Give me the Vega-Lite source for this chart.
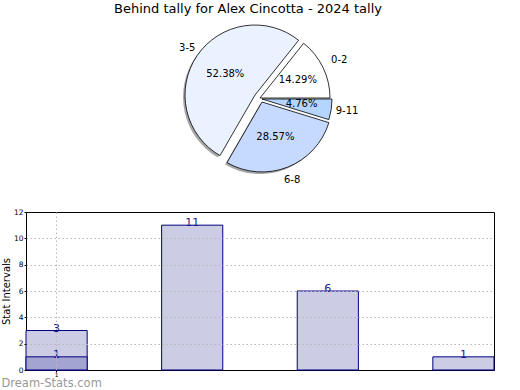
{
  "$schema": "https://vega.github.io/schema/vega-lite/v6.json",
  "padding": {"left": 0, "right": 0, "top": 3, "bottom": 0},
  "background": "white",
  "config": {
    "view": {"stroke": null},
    "font": "DejaVu Sans",
    "text": {"font": "DejaVu Sans"}
  },
  "title": {
    "text": "Behind tally for Alex Cincotta - 2024 tally",
    "fontSize": 13,
    "fontWeight": "normal",
    "font": "DejaVu Sans",
    "color": "#000000",
    "anchor": "middle",
    "offset": 2
  },
  "datasets": {
    "pie": [
      {"range": "0-2", "count": 3, "pct": "14.29%"},
      {"range": "3-5", "count": 11, "pct": "52.38%"},
      {"range": "6-8", "count": 6, "pct": "28.57%"},
      {"range": "9-11", "count": 1, "pct": "4.76%"}
    ],
    "bars": [
      {"x": 1, "value": 3, "series": "all"},
      {"x": 1, "value": 1, "series": "sub"},
      {"x": 2, "value": 11, "series": "all"},
      {"x": 3, "value": 6, "series": "all"},
      {"x": 4, "value": 1, "series": "all"}
    ]
  },
  "spacing": 22,
  "vconcat": [
    {
      "width": 468,
      "height": 160,
      "data": {"name": "pie"},
      "transform": [
        {"stack": "count", "groupby": [], "sort": [{"field": "range", "order": "ascending"}], "as": ["t0", "t1"]}
      ],
      "layer": [
        {
          "transform": [{"filter": "datum.range === '3-5'"}],
          "mark": {"type": "arc", "radius": 70, "fill": "#808080", "opacity": 0.7, "xOffset": -7, "yOffset": -1},
          "encoding": {
            "theta": {"field": "t0", "type": "quantitative", "scale": {"domain": [0, 21], "range": [1.5708, -4.7124]}},
            "theta2": {"field": "t1"}
          }
        },
        {
          "transform": [{"filter": "datum.range === '6-8'"}],
          "mark": {"type": "arc", "radius": 70, "fill": "#808080", "opacity": 0.7, "xOffset": 0, "yOffset": 6},
          "encoding": {
            "theta": {"field": "t0", "type": "quantitative"},
            "theta2": {"field": "t1"}
          }
        },
        {
          "transform": [{"filter": "datum.range === '0-2'"}],
          "mark": {"type": "arc", "radius": 70, "stroke": "#000000", "strokeWidth": 0.8},
          "encoding": {
            "theta": {"field": "t0", "type": "quantitative"},
            "theta2": {"field": "t1"},
            "color": {"field": "range", "type": "nominal", "legend": null, "scale": {"domain": ["0-2", "3-5", "6-8", "9-11"], "range": ["#FFFFFF", "#EAF1FF", "#C6D9FF", "#B5D5FF"]}}
          }
        },
        {
          "transform": [{"filter": "datum.range === '3-5'"}],
          "mark": {"type": "arc", "radius": 70, "stroke": "#000000", "strokeWidth": 0.8, "xOffset": -5, "yOffset": -3},
          "encoding": {
            "theta": {"field": "t0", "type": "quantitative"},
            "theta2": {"field": "t1"},
            "color": {"field": "range", "type": "nominal", "legend": null}
          }
        },
        {
          "transform": [{"filter": "datum.range === '6-8'"}],
          "mark": {"type": "arc", "radius": 70, "stroke": "#000000", "strokeWidth": 0.8, "xOffset": 2, "yOffset": 4},
          "encoding": {
            "theta": {"field": "t0", "type": "quantitative"},
            "theta2": {"field": "t1"},
            "color": {"field": "range", "type": "nominal", "legend": null}
          }
        },
        {
          "transform": [{"filter": "datum.range === '9-11'"}],
          "mark": {"type": "arc", "radius": 70, "stroke": "#000000", "strokeWidth": 0.8, "xOffset": 2, "yOffset": 1},
          "encoding": {
            "theta": {"field": "t0", "type": "quantitative"},
            "theta2": {"field": "t1"},
            "color": {"field": "range", "type": "nominal", "legend": null}
          }
        },
        {
          "mark": {"type": "text", "radius": 42, "fontSize": 10, "color": "#000000"},
          "encoding": {
            "theta": {"field": "count", "type": "quantitative", "stack": true},
            "order": {"field": "range", "sort": "ascending"},
            "text": {"field": "pct"}
          }
        },
        {
          "mark": {"type": "text", "radius": 88, "fontSize": 10, "color": "#000000"},
          "encoding": {
            "theta": {"field": "count", "type": "quantitative", "stack": true},
            "order": {"field": "range", "sort": "ascending"},
            "text": {"field": "range"}
          }
        }
      ]
    },
    {
      "width": 468,
      "height": 158,
      "view": {"stroke": "#000000", "strokeWidth": 1},
      "data": {"name": "bars"},
      "title": {
        "text": "Dream-Stats.com",
        "orient": "bottom",
        "anchor": "start",
        "frame": "bounds",
        "fontSize": 11.5,
        "fontWeight": "normal",
        "font": "DejaVu Sans",
        "color": "#999999",
        "offset": 1
      },
      "encoding": {
        "x": {
          "field": "x",
          "type": "ordinal",
          "scale": {"paddingInner": 0.549, "paddingOuter": 0},
          "axis": {
            "values": [1],
            "title": null,
            "labelAngle": 0,
            "labelFontSize": 6,
            "labelColor": "#000000",
            "labelPadding": -1,
            "grid": true,
            "bandPosition": 0.5,
            "gridColor": "#b8b8b8",
            "gridDash": [1.5, 2.5],
            "domain": false,
            "tickSize": 2,
            "tickColor": "#000000",
            "zindex": 1
          }
        },
        "y": {
          "field": "value",
          "type": "quantitative",
          "stack": null,
          "scale": {"domain": [0, 12], "nice": false},
          "axis": {
            "values": [0, 2, 4, 6, 8, 10, 12],
            "title": "Stat Intervals",
            "titleFontSize": 10,
            "titleFontWeight": "normal",
            "titleFont": "DejaVu Sans",
            "titleColor": "#000000",
            "titlePadding": 2,
            "labelFontSize": 7.5,
            "labelColor": "#000000",
            "labelPadding": 1,
            "grid": true,
            "gridColor": "#b8b8b8",
            "gridDash": [1.5, 2.5],
            "gridOpacity": {"condition": {"test": "datum.value === 0 || datum.value === 12", "value": 0}, "value": 1},
            "domain": false,
            "tickSize": 2,
            "tickColor": "#000000",
            "zindex": 1
          }
        }
      },
      "layer": [
        {
          "mark": {"type": "bar", "stroke": "#000080", "strokeWidth": 1},
          "encoding": {
            "fill": {"field": "series", "type": "nominal", "legend": null, "scale": {"domain": ["all", "sub"], "range": ["#CCCCE5", "#A4A4D0"]}}
          }
        },
        {
          "mark": {"type": "text", "fontSize": 11, "color": "#1a1a8c", "baseline": "alphabetic", "dy": 1},
          "encoding": {
            "text": {"field": "value"}
          }
        }
      ]
    }
  ]
}
